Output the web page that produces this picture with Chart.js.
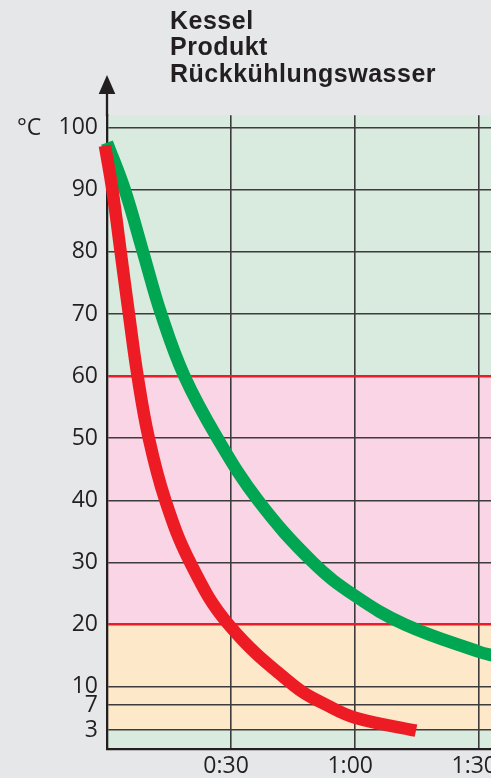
<!DOCTYPE html>
<html>
<head>
<meta charset="utf-8">
<script src="https://cdn.jsdelivr.net/npm/chart.js@4.4.1/dist/chart.umd.min.js"></script>
<style>
  html, body { margin: 0; padding: 0; background: #e6e7e8; overflow: hidden; }
  #wrap { position: relative; width: 562px; height: 778px; }
</style>
</head>
<body>
<div id="wrap"><canvas id="c"></canvas></div>
<script>
// ---- data ----
const titleLines = ['Kessel', 'Produkt', 'Rückkühlungswasser'];
const yUnit = '°C';
const yTickValues = [3, 7, 10, 20, 30, 40, 50, 60, 70, 80, 90, 100];
const redLineValues = [20, 60];
const xTickValues = [30, 60, 90];
const xTickLabels = ['0:30', '1:00', '1:30'];
const bandEdges = [0, 3, 20, 60, 102];
const bandColors = ['#d8ebde', '#fde8ca', '#f9d5e5', '#d8ebde'];

const redTimes = [-0.5, 1.3, 3.3, 5.3, 7.4, 10.1, 14.1, 20.1, 29.4, 45.5, 53.2, 60, 74.7];
const redTemps = [97.1, 90, 80, 70, 60, 50, 40, 30, 20, 10, 7, 5.0, 2.9];
const greenTimes = [0, 4.3, 8.7, 13.1, 18.7, 26.7, 36.5, 49.8, 60, 72, 90, 93.5];
const greenTemps = [97.6, 90, 80, 70, 60, 50, 40, 30, 24.6, 20, 15.6, 15.0];

const toPoints = (xs, ys) => xs.map((x, i) => ({ x: x, y: ys[i] }));

const INK = '#231f20';
const GRID = '#3d3b3c';
const RED = '#ed1c24';
const GREEN = '#00a651';

const decor = {
  id: 'decor',
  beforeDraw(chart) {
    const { ctx, chartArea } = chart;
    const y = chart.scales.y;
    ctx.save();
    for (let i = 0; i < bandColors.length; i++) {
      const yTop = y.getPixelForValue(bandEdges[i + 1]);
      const yBot = y.getPixelForValue(bandEdges[i]);
      ctx.fillStyle = bandColors[i];
      ctx.fillRect(chartArea.left, yTop, chartArea.right - chartArea.left, yBot - yTop);
    }
    ctx.restore();
  },
  afterDraw(chart) {
    const { ctx, chartArea } = chart;
    const y = chart.scales.y;
    ctx.save();
    // y axis extension + arrow
    const ax = chartArea.left;
    ctx.strokeStyle = INK;
    ctx.lineWidth = 2.3;
    ctx.beginPath();
    ctx.moveTo(ax, chartArea.top + 1);
    ctx.lineTo(ax, 93);
    ctx.stroke();
    ctx.fillStyle = INK;
    ctx.beginPath();
    ctx.moveTo(ax, 75);
    ctx.lineTo(ax - 8.3, 94);
    ctx.lineTo(ax + 8.3, 94);
    ctx.closePath();
    ctx.fill();
    // unit label
    ctx.font = '23px "Open Sans"';
    ctx.textAlign = 'left';
    ctx.textBaseline = 'middle';
    ctx.fillText(yUnit, 17, y.getPixelForValue(100) + 1);
    // title lines
    ctx.font = 'bold 25px "Liberation Sans"';
    ctx.letterSpacing = '0.5px';
    ctx.textBaseline = 'alphabetic';
    const baselines = [28.5, 55, 81.5];
    titleLines.forEach((t, i) => ctx.fillText(t, 170, baselines[i]));
    ctx.restore();
  }
};

new Chart(document.getElementById('c'), {
  type: 'line',
  data: {
    datasets: [
      {
        label: 'Rot',
        data: toPoints(redTimes, redTemps),
        borderColor: RED,
        borderWidth: 12.5,
        borderCapStyle: 'butt',
        borderJoinStyle: 'round',
        tension: 0.4,
        pointRadius: 0,
        fill: false,
        clip: false,
        order: 0
      },
      {
        label: 'Grün',
        data: toPoints(greenTimes, greenTemps),
        borderColor: GREEN,
        borderWidth: 12.5,
        borderCapStyle: 'butt',
        borderJoinStyle: 'round',
        tension: 0.4,
        pointRadius: 0,
        fill: false,
        clip: false,
        order: 1
      }
    ]
  },
  options: {
    responsive: true,
    maintainAspectRatio: false,
    animation: false,
    devicePixelRatio: 1,
    layout: { padding: { top: 115.3, left: 0, right: 0, bottom: 0 } },
    plugins: { legend: { display: false }, tooltip: { enabled: false }, title: { display: false } },
    scales: {
      x: {
        type: 'linear',
        min: 0,
        max: 110,
        afterBuildTicks(scale) { scale.ticks = xTickValues.map(v => ({ value: v })); },
        afterFit(scale) { scale.height = 29.3; scale.paddingLeft = 0; scale.paddingRight = 0; },
        grid: { color: GRID, lineWidth: 1.6, drawTicks: false },
        border: { display: true, color: INK, width: 2.2 },
        ticks: {
          padding: 4,
          labelOffset: -5,
          maxRotation: 0,
          autoSkip: false,
          color: INK,
          font: { family: 'Open Sans', size: 23 },
          callback: (v) => { const i = xTickValues.indexOf(v); return i >= 0 ? xTickLabels[i] : ''; }
        }
      },
      y: {
        type: 'linear',
        min: 0,
        max: 102,
        afterBuildTicks(scale) { scale.ticks = yTickValues.map(v => ({ value: v })); },
        afterFit(scale) { scale.width = 107; },
        grid: {
          drawTicks: false,
          color: (c) => redLineValues.includes(c.tick && c.tick.value) ? RED : GRID,
          lineWidth: (c) => redLineValues.includes(c.tick && c.tick.value) ? 2.4 : 1.6
        },
        border: { display: true, color: INK, width: 2.3 },
        ticks: {
          padding: 9,
          autoSkip: false,
          color: INK,
          font: { family: 'Open Sans', size: 23 },
          callback: (v) => String(v)
        }
      }
    }
  },
  plugins: [decor]
});
</script>
</body>
</html>
